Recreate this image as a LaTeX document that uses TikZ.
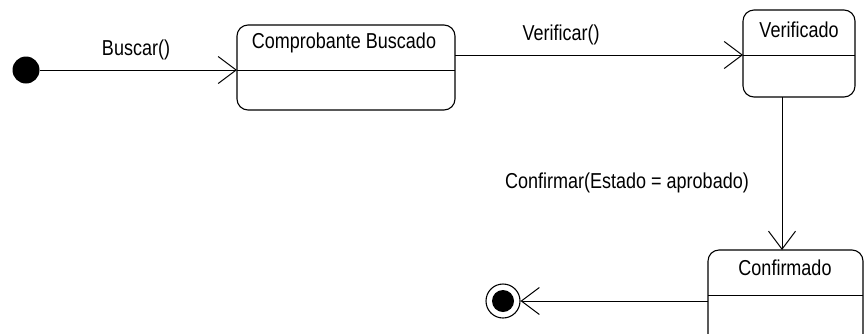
\documentclass[tikz,border=0pt]{standalone}
\usepackage{fontspec}
\usepackage{graphicx}
\setmainfont{Liberation Sans}
\usetikzlibrary{arrows.meta}
\newcommand{\tallt}[1]{\scalebox{1}[1.2]{#1}}
\begin{document}
\begin{tikzpicture}[x=1pt,y=-1pt,
  statebox/.style={draw, line width=1.1pt, rounded corners=11pt, inner sep=0pt},
  conn/.style={line width=1pt},
  arr/.style={conn, -{Straight Barb[length=18pt,width=27pt,line width=1pt]}},
  lbl/.style={font=\fontsize{18}{21}\selectfont, inner sep=0pt}]
\clip (0,0) rectangle (864,333);
\fill[white] (0,0) rectangle (864,333);
% initial state
\node[circle, fill=black, minimum size=27pt, inner sep=0pt] (init) at (26,70) {};
% states
\node[statebox, minimum width=218pt, minimum height=85pt] (cb) at (346,67.5) {};
\node[lbl] (cbt) at (344,43) {\tallt{Comprobante Buscado}};
\coordinate (cbdl) at (237,70);
\coordinate (cbdr) at (455,70);
\draw[conn] (cbdl) -- (cbdr);

\node[statebox, minimum width=112pt, minimum height=87pt] (ver) at (799,53.5) {};
\node[lbl] (vert) at (799,30) {\tallt{Verificado}};
\coordinate (verdl) at (743,55);
\coordinate (verdr) at (855,55);
\draw[conn] (verdl) -- (verdr);

\node[statebox, minimum width=155pt, minimum height=110pt] (conf) at (785.5,305) {};
\node[lbl] (conft) at (785,268) {\tallt{Confirmado}};
\coordinate (confdl) at (708,295);
\coordinate (confdr) at (863,295);
\draw[conn] (confdl) -- (confdr);

% final state
\node[circle, draw, line width=1.1pt, fill=white, minimum size=34pt, inner sep=0pt] (fin) at (503,301) {};
\node[circle, fill=black, minimum size=22pt, inner sep=0pt] (finin) at (fin) {};

% transitions
\draw[arr] (init) -- (cbdl);
\node[lbl] (l1) at (136,50) {\tallt{Buscar()}};

\coordinate (cbout) at (455,55);
\draw[arr] (cbout) -- (verdl);
\node[lbl] (l2) at (561,35) {\tallt{Verificar()}};

\coordinate (verbot) at (782,97);
\coordinate (conftop) at (782,250);
\draw[arr] (verbot) -- (conftop);
\node[lbl] (l3) at (627,183) {\tallt{Confirmar(Estado = aprobado)}};

\coordinate (confout) at (708,301);
\draw[arr] (confout) -- (fin);
\end{tikzpicture}
\end{document}
